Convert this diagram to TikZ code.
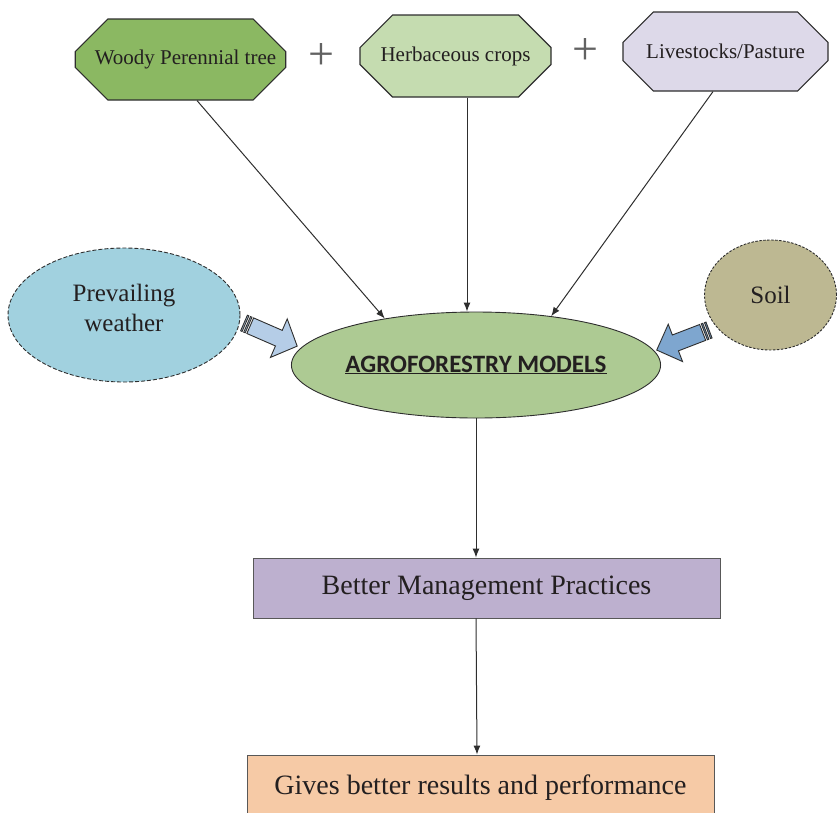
\documentclass[tikz,border=0pt]{standalone}
\usepackage{fontspec}
\setmainfont{Liberation Serif}
\newfontfamily\headsans{Carlito}
\usetikzlibrary{shapes.misc,shapes.geometric,arrows.meta}

\definecolor{ink}{HTML}{231F20}
\definecolor{edge}{HTML}{2E2E2E}
\definecolor{woodyfill}{HTML}{8BB862}
\definecolor{herbfill}{HTML}{C5DCB0}
\definecolor{livefill}{HTML}{DDD9E9}
\definecolor{weatherfill}{HTML}{A1D1DF}
\definecolor{soilfill}{HTML}{BDB892}
\definecolor{agrofill}{HTML}{ADCA93}
\definecolor{mgmtfill}{HTML}{BDB0CF}
\definecolor{resultfill}{HTML}{F6CAA6}
\definecolor{paleblue}{HTML}{B5CDE7}
\definecolor{midblue}{HTML}{7EA6CF}

\begin{document}
\begin{tikzpicture}[x=1pt,y=-1pt,
  octobox/.style={chamfered rectangle, chamfered rectangle xsep=23pt,
    chamfered rectangle ysep=23pt, draw=edge, line width=1.1pt,
    inner sep=0pt, text=ink, font=\fontsize{21}{25}\selectfont},
  cloud/.style={ellipse, draw=edge, line width=0.9pt, inner sep=0pt,
    text=ink, align=center, font=\fontsize{25}{30}\selectfont},
  cloudtext/.style={inner sep=0pt, text=ink, align=center,
    font=\fontsize{25}{30}\selectfont},
  plainbox/.style={rectangle, draw=edge!80, line width=0.9pt, inner sep=0pt,
    text=ink, font=\fontsize{28}{32}\selectfont},
  conn/.style={draw=edge, line width=1pt, -{Latex[length=9pt,width=7pt]}},
  plusmark/.style={text=edge!75, inner sep=0pt, font=\fontsize{46}{46}\selectfont},
  bandarrow/.style={draw=edge, line width=0.9pt, line join=miter}
]
\useasboundingbox (0,0) rectangle (837,812);

% inputs of the system
\node[octobox, fill=woodyfill, minimum width=207pt, minimum height=81pt]
  (woody) at (180.5,59.5) {\hspace*{10pt}Woody Perennial tree};
\node[octobox, fill=herbfill, minimum width=191pt, minimum height=82pt]
  (herb) at (455.5,56) {Herbaceous crops};
\node[octobox, fill=livefill, minimum width=205pt, minimum height=79pt]
  (live) at (725.5,51.5) {Livestocks/Pasture};
\node[plusmark] (plusA) at (321,57) {+};
\node[plusmark] (plusB) at (585,52) {+};

% environmental factors
\node[cloud, fill=weatherfill, dash pattern=on 4pt off 2pt,
  minimum width=232pt, minimum height=134pt] (weather) at (124,315) {};
\node[cloudtext] (weathertext) at ([yshift=7pt]weather.center)
  {Prevailing\\weather};
\node[cloud, fill=soilfill, dash pattern=on 2.5pt off 1.5pt,
  minimum width=132pt, minimum height=110pt] (soil) at (770.5,295) {Soil};

% central model
\node[ellipse, draw=edge, line width=0.9pt, fill=agrofill, inner sep=0pt,
  minimum width=366pt, minimum height=106pt, text=ink,
  font=\headsans\bfseries\fontsize{25}{29}\selectfont] (agro) at (476,365)
  {\underline{AGROFORESTRY MODELS}};

% outcomes
\node[plainbox, fill=mgmtfill, minimum width=467pt, minimum height=60pt]
  (mgmt) at (486.5,588) {Better Management Practices};
\node[plainbox, fill=resultfill, minimum width=467pt, minimum height=65pt]
  (result) at (480.5,787.5) {Gives better results and performance};

% connectors
\draw[conn] ([xshift=16.5pt]woody.south) -- (agro.153);
\coordinate (herbout) at ([xshift=11.5pt]herb.south);
\draw[conn] (herbout) -- (herbout |- agro.north);
\draw[conn] ([xshift=-12.5pt]live.south) -- (agro.33);
\draw[conn] (agro.south) -- (agro.south |- mgmt.north);
\draw[conn] (mgmt.south -| agro.south) -- ([xshift=1pt]result.north -| agro.south);

% striped block arrows feeding the model
\begin{scope}[shift={(244,323)}, rotate=-23.5]
  \draw[bandarrow, fill=paleblue] (0,-8.5) rectangle (1.6,8.5);
  \draw[bandarrow, fill=paleblue] (3.4,-8.5) rectangle (5.0,8.5);
  \draw[bandarrow, fill=paleblue] (6.8,-8.5) -- (38,-8.5) -- (38,-21)
    -- (58,0) -- (38,21) -- (38,8.5) -- (6.8,8.5) -- cycle;
\end{scope}
\begin{scope}[shift={(709,330)}, rotate=201]
  \draw[bandarrow, fill=midblue] (0,-8.5) rectangle (1.6,8.5);
  \draw[bandarrow, fill=midblue] (3.4,-8.5) rectangle (5.0,8.5);
  \draw[bandarrow, fill=midblue] (6.8,-8.5) -- (36,-8.5) -- (36,-20)
    -- (56,0) -- (36,20) -- (36,8.5) -- (6.8,8.5) -- cycle;
\end{scope}
\end{tikzpicture}
\end{document}
